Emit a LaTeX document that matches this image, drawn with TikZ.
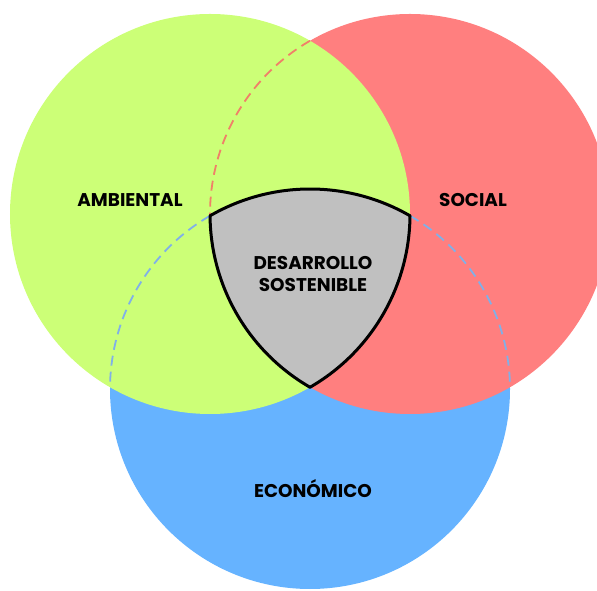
\documentclass[tikz,border=0pt]{standalone}
\usepackage{fontspec}
\setmainfont{Poppins}
\definecolor{cgreen}{HTML}{CCFF77}
\definecolor{cred}{HTML}{FF7F7F}
\definecolor{cblue}{HTML}{66B3FF}
\definecolor{cgray}{HTML}{C0C0C0}
\definecolor{dred}{HTML}{F08068}
\definecolor{dblue}{HTML}{80B0E8}
\tikzset{
  dashline/.style={line width=1.8bp, dash pattern=on 10bp off 6bp},
  lbl/.style={font=\bfseries\fontsize{18.5}{23}\selectfont, text=black, align=center, inner sep=0pt},
}
\begin{document}
\begin{tikzpicture}[x=1bp,y=1bp]
\useasboundingbox (0,0) rectangle (597,591);
\begin{scope}
\clip (0,0) rectangle (597,591);
% circles
\fill[cblue] (310,202) circle[radius=200bp];
\fill[cred] (410,377) circle[radius=200bp];
\fill[cgreen] (210,377) circle[radius=200bp];
% central region
\fill[cgray] (210,375.2) arc[start angle=120, end angle=60, radius=200bp]
  arc[start angle=-0.5, end angle=-60, radius=200bp]
  arc[start angle=240, end angle=180.5, radius=200bp] -- cycle;
% dashed hidden outlines
\draw[dashline, dred] (310,550.2) arc[start angle=120, end angle=180.5, radius=200bp];
\draw[dashline, dblue] (210,375.2) arc[start angle=120, end angle=179.5, radius=200bp];
\draw[dashline, dblue] (410,375.2) arc[start angle=60, end angle=0.5, radius=200bp];
% outline of central region
\draw[line width=3bp, line join=round] (210,375.2) arc[start angle=120, end angle=60, radius=200bp]
  arc[start angle=-0.5, end angle=-60, radius=200bp]
  arc[start angle=240, end angle=180.5, radius=200bp] -- cycle;
\end{scope}
\node[lbl] (amb) at (130,391) {AMBIENTAL};
\node[lbl] (soc) at (473,391) {SOCIAL};
\node[lbl] (eco) at (313,102) {ECONÓMICO};
\node[lbl] (des) at (313,317) {DESARROLLO\\SOSTENIBLE};
\end{tikzpicture}
\end{document}
